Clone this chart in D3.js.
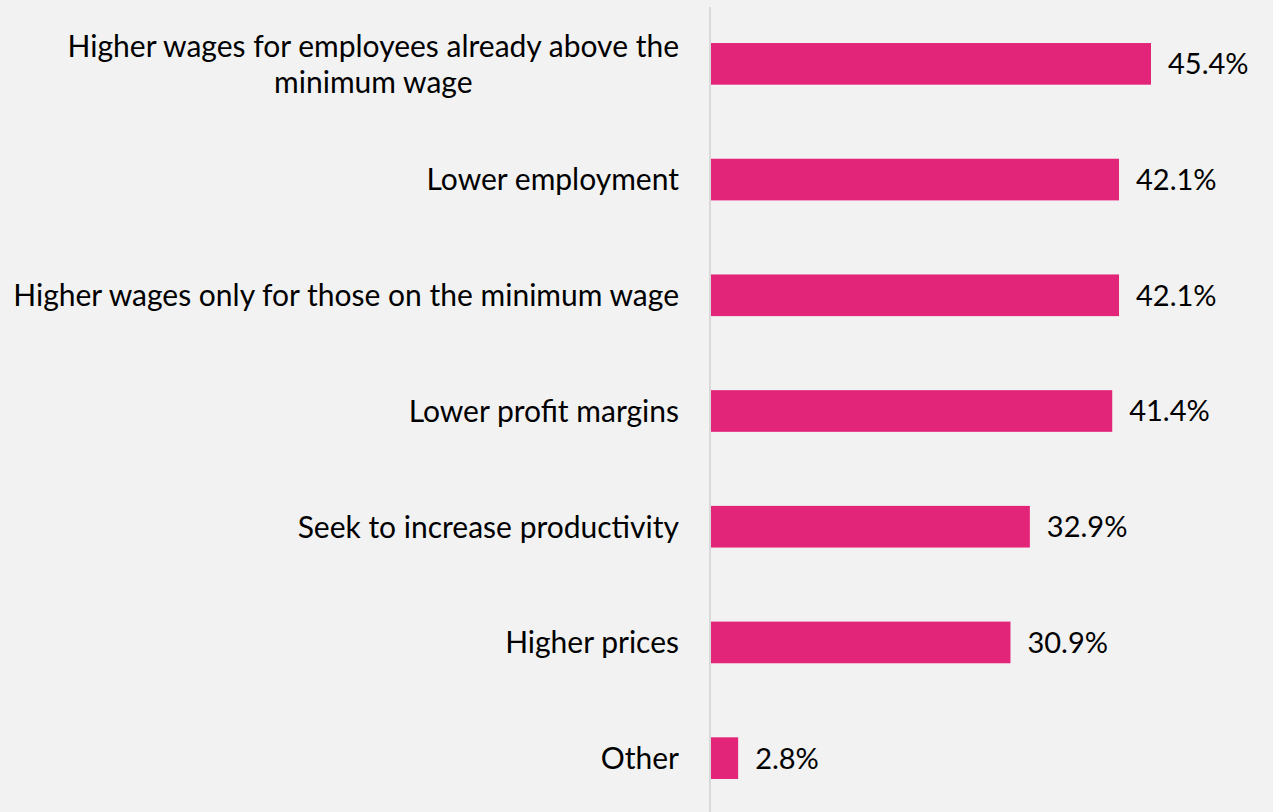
<!DOCTYPE html>
<html>
<head>
<meta charset="utf-8">
<script src="https://cdn.jsdelivr.net/npm/d3@7"></script>
<style>
  html, body { margin: 0; padding: 0; background: #f2f2f2; }
  svg { display: block; }
  text { font-family: Lato, "Open Sans", sans-serif; fill: #000; }
</style>
</head>
<body>
<svg id="chart" width="1273" height="812"></svg>
<script>
// Survey responses: expected effects of a minimum wage increase (% of respondents)
const categories = [
  "Higher wages for employees already above the\nminimum wage",
  "Lower employment",
  "Higher wages only for those on the minimum wage",
  "Lower profit margins",
  "Seek to increase productivity",
  "Higher prices",
  "Other"
];
const values = [45.4, 42.1, 42.1, 41.4, 32.9, 30.9, 2.8];

const width = 1273, height = 812;
const axisX = 710;
const svg = d3.select("#chart");

const x = d3.scaleLinear().domain([0, 45.4]).range([axisX + 1, 1151]);
const y = d3.scaleBand().domain(categories).range([6, 816]).paddingInner(0.64).paddingOuter(0.32);

const fontSize = 30;
const valueSize = 29;

// bars
svg.selectAll("rect.bar")
  .data(values)
  .join("rect")
  .attr("class", "bar")
  .attr("x", x(0))
  .attr("y", (d, i) => y(categories[i]))
  .attr("width", d => x(d) - x(0))
  .attr("height", y.bandwidth())
  .attr("fill", "#e3257a");

// value labels
svg.selectAll("text.value")
  .data(values)
  .join("text")
  .attr("class", "value")
  .attr("x", d => x(d) + 17)
  .attr("y", (d, i) => y(categories[i]) + y.bandwidth() / 2)
  .attr("dy", "0.36em")
  .attr("font-size", valueSize)
  .text(d => d.toFixed(1) + "%");

// category labels, right-aligned blocks with centred lines
const labelRight = axisX - 31;
const lineH = 36;
categories.forEach((c, i) => {
  const lines = c.split("\n");
  const cy = y(c) + y.bandwidth() / 2;
  const t = svg.append("text")
    .attr("font-size", fontSize)
    .attr("text-anchor", lines.length > 1 ? "middle" : "end");
  lines.forEach((ln, k) => {
    t.append("tspan")
      .attr("x", 0)
      .attr("y", cy + (k - (lines.length - 1) / 2) * lineH)
      .attr("dy", "0.36em")
      .text(ln);
  });
  if (lines.length > 1) {
    const bb = t.node().getBBox();
    t.selectAll("tspan").attr("x", labelRight - bb.width / 2);
  } else {
    t.selectAll("tspan").attr("x", labelRight);
  }
});

// category axis line
svg.append("line")
  .attr("x1", axisX).attr("x2", axisX)
  .attr("y1", 7).attr("y2", height)
  .attr("stroke", "#d9d9d9")
  .attr("stroke-width", 2);
</script>
</body>
</html>
